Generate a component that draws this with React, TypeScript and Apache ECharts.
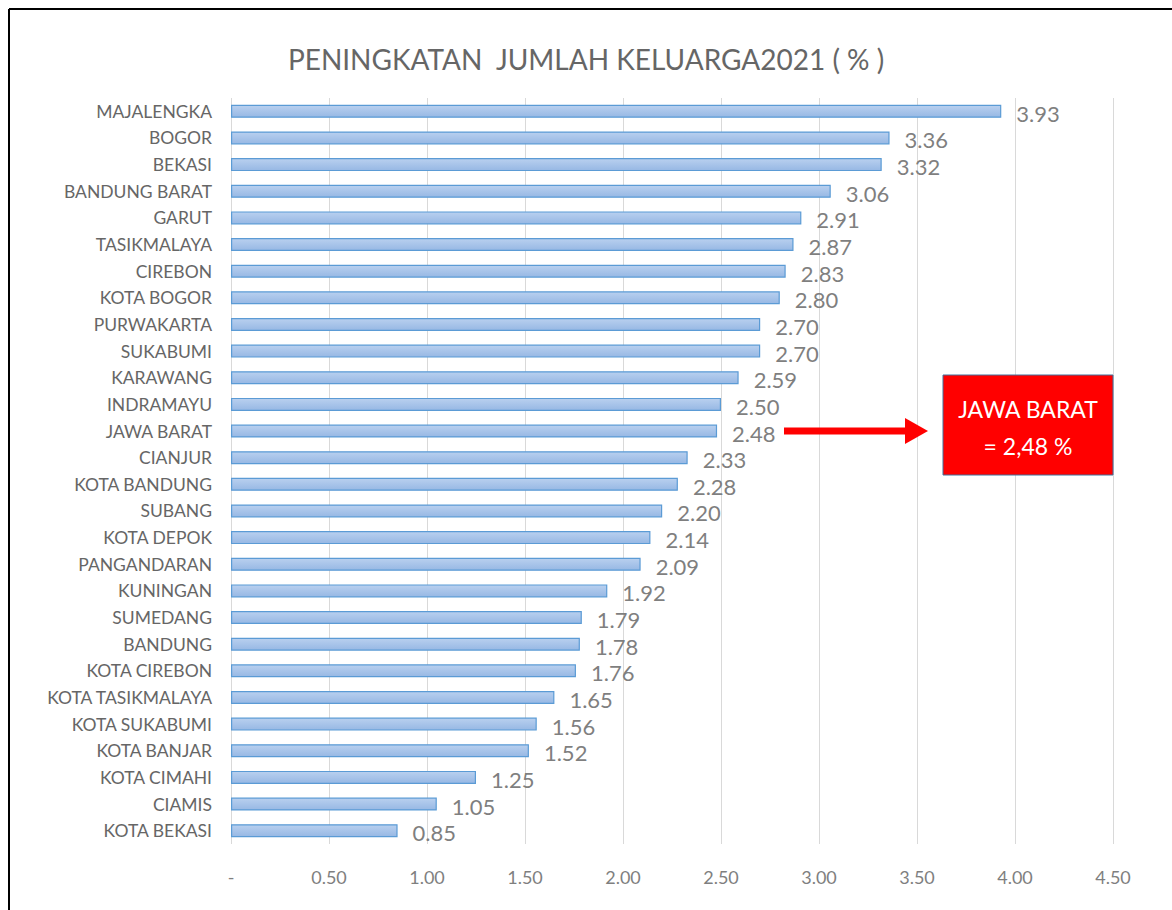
import React, { useEffect, useRef } from "react";
import * as echarts from "echarts";

const categories = [
  "MAJALENGKA", "BOGOR", "BEKASI", "BANDUNG BARAT", "GARUT", "TASIKMALAYA", "CIREBON",
  "KOTA BOGOR", "PURWAKARTA", "SUKABUMI", "KARAWANG", "INDRAMAYU", "JAWA BARAT", "CIANJUR",
  "KOTA BANDUNG", "SUBANG", "KOTA DEPOK", "PANGANDARAN", "KUNINGAN", "SUMEDANG", "BANDUNG",
  "KOTA CIREBON", "KOTA TASIKMALAYA", "KOTA SUKABUMI", "KOTA BANJAR", "KOTA CIMAHI", "CIAMIS",
  "KOTA BEKASI",
];
const values = [
  3.93, 3.36, 3.32, 3.06, 2.91, 2.87, 2.83, 2.8, 2.7, 2.7, 2.59, 2.5, 2.48, 2.33, 2.28, 2.2,
  2.14, 2.09, 1.92, 1.79, 1.78, 1.76, 1.65, 1.56, 1.52, 1.25, 1.05, 0.85,
];
const titleText = "PENINGKATAN  JUMLAH KELUARGA2021 ( % )";
const noteLines = ["JAWA BARAT", "= 2,48 %"];

const FONT = "Lato, 'Noto Sans', sans-serif";

export default function App() {
  const ref = useRef<HTMLDivElement>(null);
  useEffect(() => {
    document.body.style.margin = "0";
    document.body.style.overflow = "hidden";
    const chart = echarts.init(ref.current!, null, { renderer: "svg" });
    chart.setOption({
      animation: false,
      backgroundColor: "#ffffff",
      title: {
        text: titleText,
        left: "center",
        top: 40,
        textStyle: { fontFamily: FONT, fontSize: 28, fontWeight: "normal", color: "#666666" },
      },
      grid: { left: 231, right: 59, top: 98, bottom: 66 },
      xAxis: {
        type: "value",
        min: 0,
        max: 4.5,
        interval: 0.5,
        axisLine: { show: false },
        axisTick: { show: false },
        splitLine: { lineStyle: { color: "#d9d9d9", width: 1 } },
        axisLabel: {
          margin: 24,
          fontFamily: FONT,
          fontSize: 18,
          color: "#7f7f7f",
          formatter: (v: number) => (v === 0 ? "-" : v.toFixed(2)),
        },
      },
      yAxis: {
        type: "category",
        data: categories,
        inverse: true,
        axisLine: { show: false },
        axisTick: { show: false },
        axisLabel: { margin: 19, fontFamily: FONT, fontSize: 17.5, color: "#666666" },
      },
      series: [
        {
          type: "bar",
          data: values,
          barWidth: 13,
          itemStyle: {
            color: new echarts.graphic.LinearGradient(0, 0, 0, 1, [
              { offset: 0, color: "#b9d0ef" },
              { offset: 1, color: "#97b8e4" },
            ]),
            borderColor: "#5b9bd5",
            borderWidth: 1.2,
          },
          label: {
            show: true,
            position: "right",
            distance: 15,
            offset: [0, 2],
            fontFamily: FONT,
            fontSize: 22,
            color: "#7f7f7f",
            formatter: (p: any) => p.value.toFixed(2),
          },
        },
      ],
      graphic: {
        elements: [
          { type: "line", z: 100, shape: { x1: 9, y1: 9, x2: 1172, y2: 9 }, style: { stroke: "#000", lineWidth: 2 } },
          { type: "line", z: 100, shape: { x1: 9, y1: 9, x2: 9, y2: 910 }, style: { stroke: "#000", lineWidth: 2 } },
          { type: "rect", z: 100, shape: { x: 784, y: 427.5, width: 122, height: 7 }, style: { fill: "#ff0000" } },
          {
            type: "polygon",
            z: 100,
            shape: { points: [[905, 418], [928, 431], [905, 444]] },
            style: { fill: "#ff0000" },
          },
          {
            type: "rect",
            z: 100,
            shape: { x: 943, y: 375, width: 170, height: 100 },
            style: { fill: "#ff0000", stroke: "#41719c", lineWidth: 1 },
          },
          {
            type: "text",
            z: 101,
            x: 1028,
            y: 409,
            style: {
              text: noteLines[0],
              fill: "#ffffff",
              font: `23px ${FONT}`,
              align: "center",
              verticalAlign: "middle",
            },
          },
          {
            type: "text",
            z: 101,
            x: 1028,
            y: 446,
            style: {
              text: noteLines[1],
              fill: "#ffffff",
              font: `23px ${FONT}`,
              align: "center",
              verticalAlign: "middle",
            },
          },
        ],
      },
    });
    return () => chart.dispose();
  }, []);
  return <div ref={ref} style={{ width: 1172, height: 910 }} />;
}
